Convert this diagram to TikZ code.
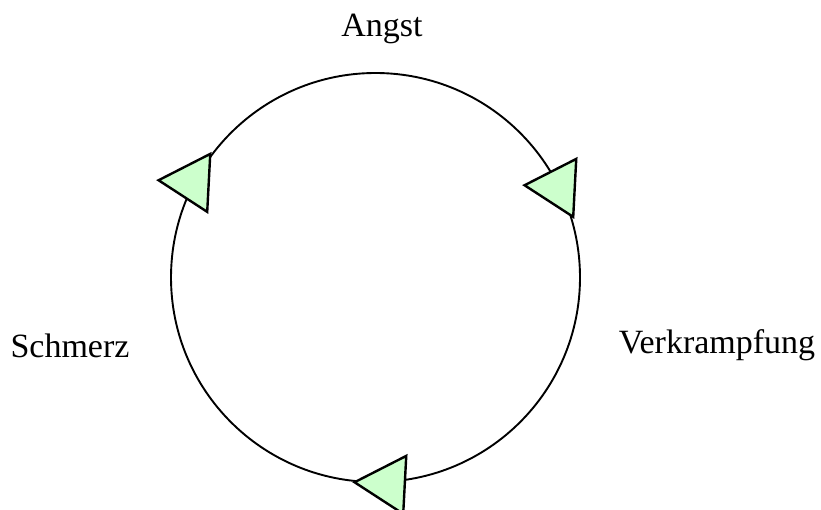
\documentclass[tikz,border=0pt]{standalone}
\usepackage{fontspec}
\setmainfont{Liberation Serif}
\usepackage{xcolor}
\usetikzlibrary{shapes.geometric}

\definecolor{palegreen}{HTML}{CCFFCC}

\begin{document}
\begin{tikzpicture}[x=1pt,y=-1pt,
  lbl/.style={font=\fontsize{34}{40}\selectfont,inner sep=0pt,anchor=base},
  arrowhead/.style={regular polygon,regular polygon sides=3,shape border rotate=87,
    minimum size=67pt,inner sep=0pt,draw,line width=2.4pt,fill=palegreen}]
\useasboundingbox (0,0) rectangle (821,510);
\node[circle,draw,line width=1.9pt,minimum size=409pt,inner sep=0pt] (ring) at (375.5,277.5) {};

\node[arrowhead] (tl) at (192,182) {};
\node[arrowhead] (tr) at (558,187) {};
\node[arrowhead] (bt) at (388,484) {};

\node[lbl] (angst) at (382,37) {Angst};
\node[lbl] (schmerz) at (70,357) {Schmerz};
\node[lbl] (verkr) at (717,353) {Verkrampfung};
\end{tikzpicture}
\end{document}
